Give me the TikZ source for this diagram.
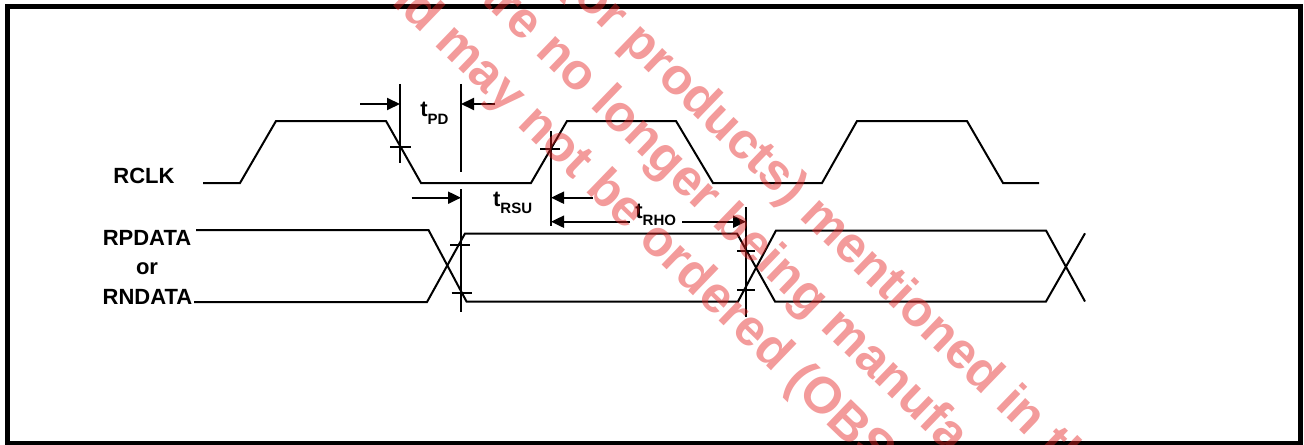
\documentclass[tikz,border=0pt]{standalone}
\usepackage{fontspec}
\setmainfont{Liberation Sans}
\usetikzlibrary{arrows.meta}
\definecolor{wmred}{RGB}{228,36,36}
\begin{document}
\begin{tikzpicture}[x=0.5pt,y=-0.5pt,
  sig/.style={line width=1pt, line join=miter},
  guide/.style={line width=1pt},
  dimarrow/.style={line width=1pt,-{Triangle[length=6.5pt,width=6pt]}},
  lbl/.style={font=\fontsize{11}{13}\selectfont\bfseries, inner sep=0pt},
  wm/.style={font=\fontsize{25.5}{30}\selectfont\bfseries, text=wmred, text opacity=0.46, inner sep=0pt, rotate=-44, anchor=base west}
]
\useasboundingbox (0,0) rectangle (1304,444);
\clip (0,0) rectangle (1304,444);
% frame
\draw[line width=2.5pt] (7,6.5) rectangle (1300.5,443);

% RCLK waveform
\draw[sig] (203,183) -- (240,183) -- (276,121) -- (386,121) -- (421,183) -- (531,183)
  -- (567,121) -- (676,121) -- (713,183) -- (822,183) -- (857,121) -- (967,121)
  -- (1003,183) -- (1039,183);

% data waveforms
\draw[sig] (196,230) -- (428.5,230) -- (466.5,301.5) -- (738,301.5) -- (776,230.5)
  -- (1046,230.5) -- (1085,301.5);
\draw[sig] (194,302) -- (427,302) -- (465,233.5) -- (737,233.5) -- (775,301.5)
  -- (1046,301.5) -- (1085,233.3);

% marker lines
\coordinate (v1t) at (400,84);   \coordinate (v1b) at (400,163);
\coordinate (v2t) at (461,84);   \coordinate (v2b) at (461,172);
\coordinate (v3t) at (461,189);  \coordinate (v3b) at (461,311.5);
\coordinate (v4t) at (551,131);  \coordinate (v4b) at (551,226);
\coordinate (v5t) at (746,207);  \coordinate (v5b) at (746,317);
\draw[guide] (v1t) -- (v1b);
\draw[guide] (v2t) -- (v2b);
\draw[guide] (v3t) -- (v3b);
\draw[guide] (v4t) -- (v4b);
\draw[guide] (v5t) -- (v5b);
% crossing ticks
\draw[guide] (390,147.3) -- (411,147.3);
\draw[guide] (450,245) -- (470,245);
\draw[guide] (451.5,293) -- (471.5,293);
\draw[guide] (540,149) -- (560,149);
\draw[guide] (737,250.7) -- (755,250.7);
\draw[guide] (737,290) -- (755,290);

% dimension arrows
\coordinate (a1s) at (360,104);   \coordinate (a1e) at (400,104);
\coordinate (a2s) at (495,104);   \coordinate (a2e) at (461,104);
\coordinate (a3s) at (411.5,197.7); \coordinate (a3e) at (461,197.7);
\coordinate (a4s) at (593,197.7); \coordinate (a4e) at (551,197.7);
\coordinate (a5s) at (630,221.7); \coordinate (a5e) at (551,221.7);
\coordinate (a6s) at (682,221.7); \coordinate (a6e) at (746,221.7);
\draw[dimarrow] (a1s) -- (a1e);
\draw[dimarrow] (a2s) -- (a2e);
\draw[dimarrow] (a3s) -- (a3e);
\draw[dimarrow] (a4s) -- (a4e);
\draw[dimarrow] (a5s) -- (a5e);
\draw[dimarrow] (a6s) -- (a6e);

% timing labels
\node[lbl, anchor=base west] (tpd) at (420,116.7) {t\raisebox{-3.65pt}{\fontsize{7.5}{9}\selectfont\bfseries PD}};
\node[lbl, anchor=base west] (trsu) at (492.7,206.7) {t\raisebox{-3.3pt}{\fontsize{7.5}{9}\selectfont\bfseries RSU}};
\node[lbl, anchor=base west] (trho) at (635,218.5) {t\raisebox{-3.6pt}{\fontsize{7.5}{9}\selectfont\bfseries RHO}};

% signal names
\node[lbl, anchor=base west] (rclk) at (113,183) {RCLK};
\node[lbl, anchor=base] (rpdata) at (147,245) {RPDATA};
\node[lbl, anchor=base] (or) at (147,274) {or};
\node[lbl, anchor=base] (rndata) at (147.5,304) {RNDATA};

% watermark
\node[wm] (wm1) at (560,-13.4) {(or products) mentioned in th};
\node[wm] (wm2) at (469,-10.1) {are no longer being manufa};
\node[wm] (wm3) at (378,-9) {nd may not be ordered (OBS};
\end{tikzpicture}
\end{document}
